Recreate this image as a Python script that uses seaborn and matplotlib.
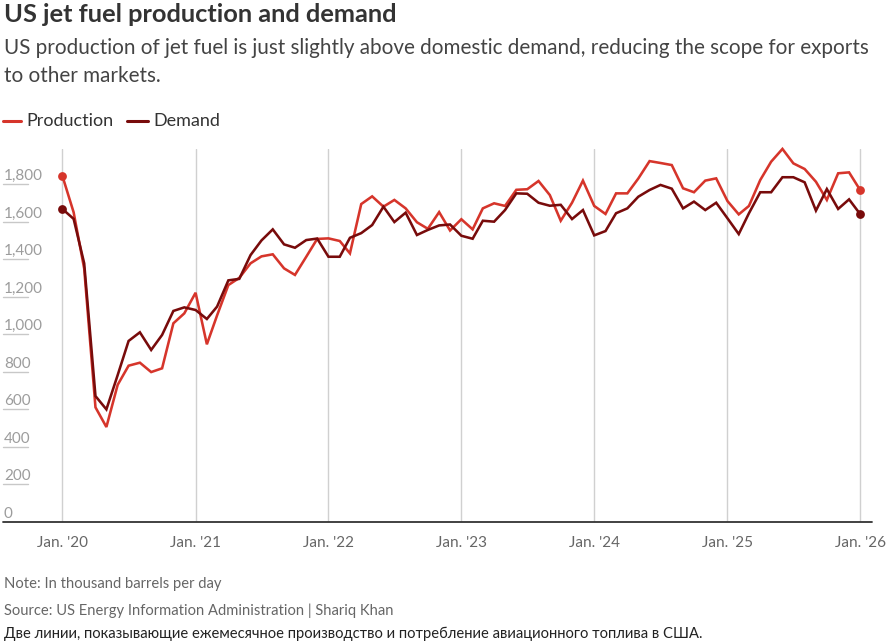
import numpy as np
import pandas as pd
import matplotlib
matplotlib.use("Agg")
import matplotlib.pyplot as plt
import matplotlib.transforms as mtransforms
from matplotlib.lines import Line2D
import seaborn as sns

# ---------------- data ----------------
months = pd.date_range("2020-01-01", periods=73, freq="MS")

production = [1845, 1650, 1350, 610, 505, 730, 832, 848, 798, 818, 1058, 1111,
              1221, 946, 1100, 1262, 1300, 1378, 1415, 1426, 1351, 1316, 1413, 1508,
              1511, 1497, 1431, 1694, 1735, 1680, 1716, 1671, 1597, 1562, 1651, 1553,
              1613, 1559, 1671, 1698, 1684, 1770, 1773, 1817, 1742, 1605, 1701, 1819,
              1684, 1641, 1751, 1751, 1830, 1923, 1913, 1902, 1778, 1757, 1819, 1831,
              1710, 1639, 1684, 1822, 1920, 1988, 1911, 1881, 1813, 1716, 1858, 1863,
              1767]

demand = [1668, 1615, 1378, 670, 599, 782, 964, 1010, 916, 996, 1124, 1143,
          1129, 1081, 1147, 1287, 1295, 1422, 1500, 1559, 1479, 1461, 1502, 1510,
          1413, 1413, 1514, 1539, 1582, 1680, 1598, 1648, 1529, 1556, 1580, 1585,
          1525, 1509, 1605, 1600, 1662, 1751, 1749, 1701, 1685, 1690, 1614, 1662,
          1527, 1550, 1645, 1671, 1733, 1769, 1796, 1776, 1671, 1707, 1662, 1701,
          1618, 1534, 1645, 1757, 1757, 1837, 1837, 1810, 1659, 1774, 1668, 1719,
          1639]

series_names = ["Production", "Demand"]
series_colors = ["#d6352b", "#780b0b"]

y_ticks = [0, 200, 400, 600, 800, 1000, 1200, 1400, 1600, 1800]
y_tick_labels = ["0", "200", "400", "600", "800", "1,000", "1,200", "1,400", "1,600", "1,800"]

x_tick_dates = pd.to_datetime(["2020-01-01", "2021-01-01", "2022-01-01", "2023-01-01",
                               "2024-01-01", "2025-01-01", "2026-01-01"])
x_tick_labels = ["Jan. '20", "Jan. '21", "Jan. '22", "Jan. '23", "Jan. '24", "Jan. '25", "Jan. '26"]

title = "US jet fuel production and demand"
subtitle_1 = "US production of jet fuel is just slightly above domestic demand, reducing the scope for exports"
subtitle_2 = "to other markets."
note = "Note: In thousand barrels per day"
source = "Source: US Energy Information Administration | Shariq Khan"
alt_text = "Две линии, показывающие ежемесячное производство и потребление авиационного топлива в США."

# ---------------- style ----------------
sns.set_theme(style="white")
plt.rcParams["font.family"] = ["Lato", "DejaVu Sans"]

W, H = 889, 644
fig = plt.figure(figsize=(W / 100, H / 100), dpi=100)
fig.patch.set_facecolor("white")


def fx(px):
    return px / W


def fy(py):
    return 1 - py / H


ax_left, ax_right, ax_top, ax_bottom = 3, 872, 149.3, 521.7
ax = fig.add_axes([fx(ax_left), fy(ax_bottom), fx(ax_right) - fx(ax_left), fy(ax_top) - fy(ax_bottom)])
ax.set_facecolor("white")

df = pd.DataFrame({
    "date": list(months) * 2,
    "value": production + demand,
    "series": [series_names[0]] * len(production) + [series_names[1]] * len(demand),
})

palette = dict(zip(series_names, series_colors))
sns.lineplot(data=df, x="date", y="value", hue="series", palette=palette,
             linewidth=1.85, legend=False, ax=ax, zorder=4)
for ln in ax.get_lines():
    ln.set_clip_on(False)
    ln.set_solid_joinstyle("miter")

for name, vals in (("Production", production), ("Demand", demand)):
    ax.scatter([months[0], months[-1]], [vals[0], vals[-1]], s=40,
               color=palette[name], zorder=5, clip_on=False, linewidths=0)

ax.set_xlim(months[0] - pd.Timedelta(days=163), months[-1] + pd.Timedelta(days=32))
ax.set_ylim(0, 1986)

for s in ax.spines.values():
    s.set_visible(False)

# vertical gridlines
ax.set_xticks(x_tick_dates)
ax.set_xticklabels(x_tick_labels, fontsize=11, color="#666666")
ax.tick_params(axis="x", length=0, pad=10)
ax.grid(axis="x", color="#d0d0d0", linewidth=1.0)
ax.grid(axis="y", visible=False)
ax.set_yticks([])
ax.set_xlabel("")
ax.set_ylabel("")

# baseline
ax.axhline(0, color="#333333", linewidth=1.3, zorder=3, clip_on=False)

# y labels sitting above short tick lines
blend = mtransforms.blended_transform_factory(ax.transAxes, ax.transData)
lab_tr = mtransforms.offset_copy(blend, fig=fig, x=1, y=4, units="dots")
short_len = 25 / (ax_right - ax_left)
for v, l in zip(y_ticks, y_tick_labels):
    ax.text(0.0, v, l, transform=lab_tr, ha="left", va="baseline",
            fontsize=11, color="#9c9c9c", zorder=2)
    if v > 0:
        ax.plot([0, short_len], [v, v], transform=blend, color="#c8c8c8",
                linewidth=1.0, zorder=2, clip_on=False)

# ---------------- texts ----------------
fig.text(fx(4), fy(14), title, fontsize=18.3, fontweight="bold", color="#333333",
         ha="left", va="center")
fig.text(fx(4), fy(48), subtitle_1, fontsize=14.9, color="#444444", ha="left", va="center")
fig.text(fx(4), fy(76), subtitle_2, fontsize=14.9, color="#444444", ha="left", va="center")

# legend
leg_y = fy(121)
fig.add_artist(Line2D([fx(3), fx(21)], [leg_y, leg_y], color=series_colors[0], linewidth=2.2))
fig.text(fx(26), leg_y, series_names[0], fontsize=13, color="#333333", ha="left", va="center")
fig.add_artist(Line2D([fx(127), fx(148)], [leg_y, leg_y], color=series_colors[1], linewidth=2.2))
fig.text(fx(153), leg_y, series_names[1], fontsize=13, color="#333333", ha="left", va="center")

fig.text(fx(4), fy(584), note, fontsize=10.6, color="#666666", ha="left", va="center")
fig.text(fx(4), fy(611), source, fontsize=10.6, color="#666666", ha="left", va="center")
fig.text(fx(4), fy(634), alt_text, fontsize=10.6, color="#222222", ha="left", va="center")

fig.savefig("out.png", dpi=100, facecolor="white")
